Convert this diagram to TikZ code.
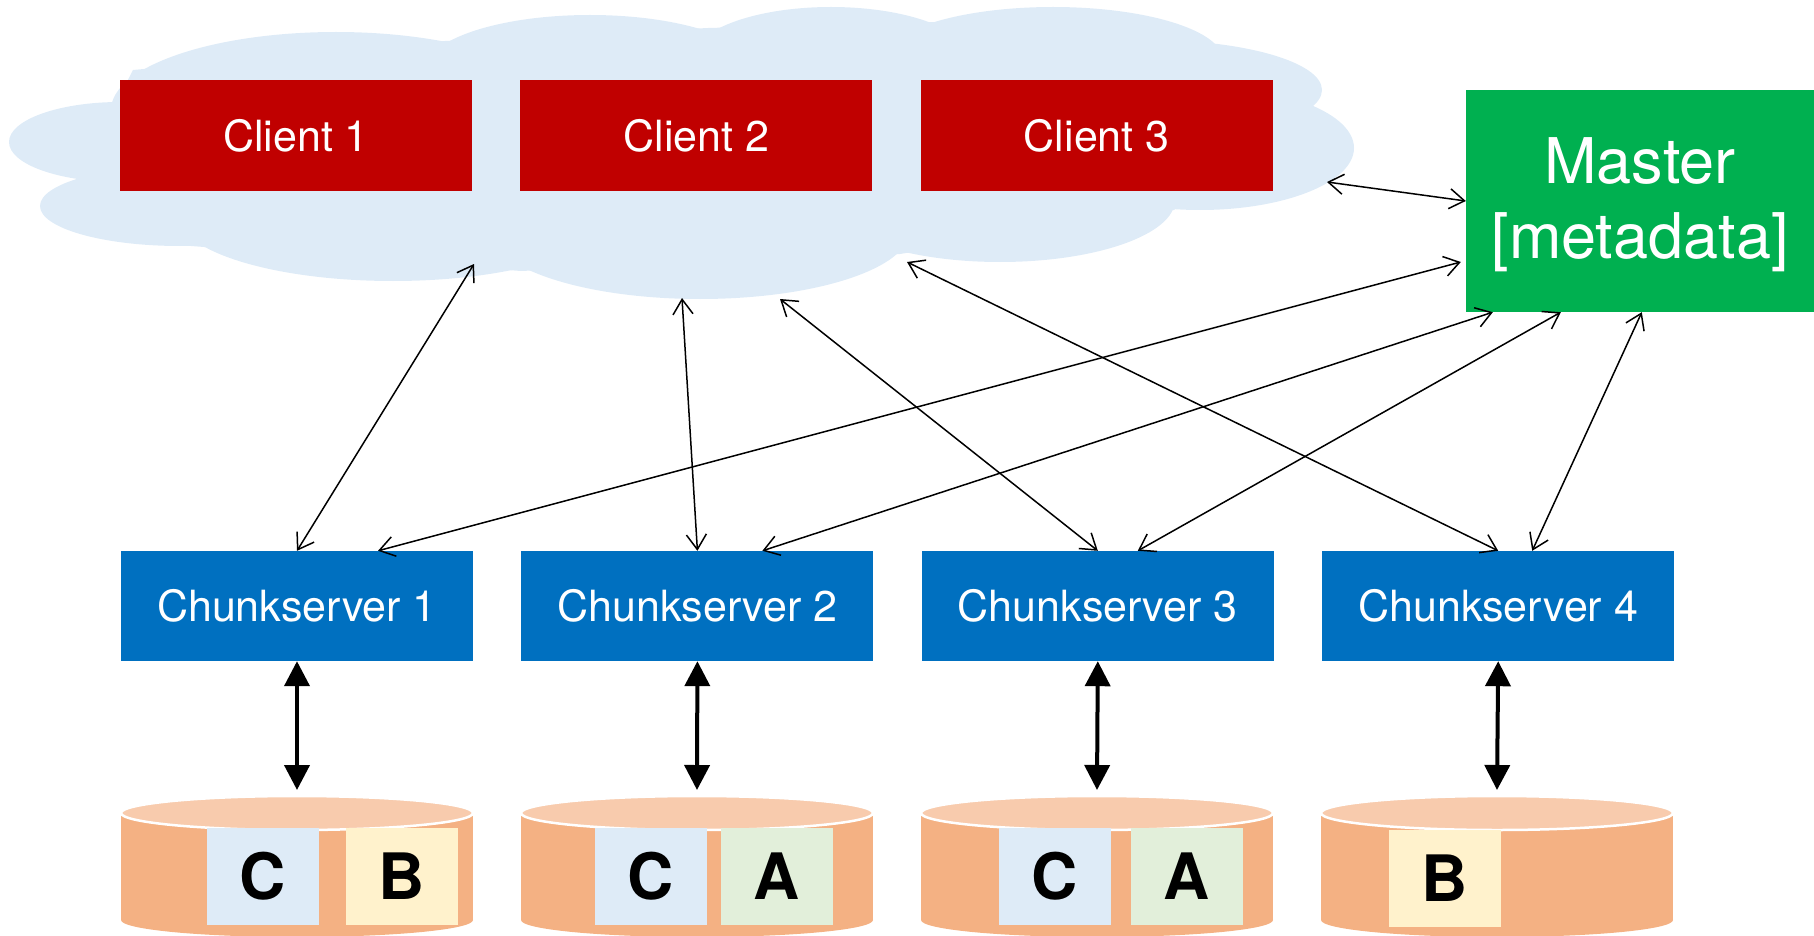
\documentclass[tikz,border=0pt]{standalone}
\usepackage{fontspec}
\setmainfont{TeX Gyre Heros}
\usetikzlibrary{arrows.meta,positioning}

\definecolor{cloudblue}{RGB}{222,235,247}
\definecolor{clientred}{RGB}{192,0,0}
\definecolor{mastergreen}{RGB}{0,176,80}
\definecolor{csblue}{RGB}{0,112,192}
\definecolor{diskbody}{RGB}{244,177,131}
\definecolor{disktop}{RGB}{248,203,173}
\definecolor{chunkC}{RGB}{222,235,247}
\definecolor{chunkB}{RGB}{255,242,204}
\definecolor{chunkA}{RGB}{226,239,218}

% one disk, centred at x = #1
\newcommand{\drawdisk}[1]{%
  \fill[diskbody] ({#1-176},813) rectangle ({#1+176},920);
  \fill[diskbody] (#1,920) ellipse [x radius=176, y radius=17];
  \filldraw[fill=disktop, draw=white, line width=2.5pt] (#1,813) ellipse [x radius=176, y radius=17];
}

\begin{document}
\begin{tikzpicture}[
    x=1pt, y=-1pt,
    node distance=48pt and 48pt,
    client/.style={fill=clientred, text=white, minimum width=352pt, minimum height=111pt, inner sep=0pt, font=\fontsize{43}{51}\selectfont},
    chunkserver/.style={fill=csblue, text=white, minimum width=352pt, minimum height=110pt, inner sep=0pt, font=\fontsize{43}{51}\selectfont},
    masterbox/.style={fill=mastergreen, minimum width=348pt, minimum height=222pt, inner sep=0pt},
    mastertext/.style={text=white, inner sep=0pt, align=center, font=\fontsize{63}{75}\selectfont},
    chunk/.style={minimum width=112pt, minimum height=97pt, inner sep=0pt, font=\fontsize{64}{64}\selectfont\bfseries},
    link/.style={{Straight Barb[length=15pt,width=20pt]}-{Straight Barb[length=15pt,width=20pt]}, line width=1.5pt},
    disklink/.style={{Triangle[length=25pt,width=25pt]}-{Triangle[length=25pt,width=25pt]}, line width=4pt}
]
\useasboundingbox (0,0) rectangle (1814,936);

% cloud
\fill[cloudblue]
  (120,142) ellipse [x radius=111, y radius=40]
  (180,206) ellipse [x radius=140, y radius=40]
  (393,215) ellipse [x radius=215, y radius=66]
  (700,230) ellipse [x radius=210, y radius=69]
  (1000,200) ellipse [x radius=175, y radius=62]
  (1200,148) ellipse [x radius=154, y radius=62]
  (1150,90) ellipse [x radius=172, y radius=50]
  (1053,60) ellipse [x radius=170, y radius=53]
  (831,60) ellipse [x radius=140, y radius=53]
  (590,70) ellipse [x radius=165, y radius=55]
  (336,110) ellipse [x radius=225, y radius=78];
\fill[cloudblue] (116,103) -- (75,177) -- (191,246) -- (521,271) -- (900,254) -- (1174,210)
  -- (1313,110) -- (1203,43) -- (937,22) -- (708,28) -- (445,41) -- (133,70) -- cycle;

\node[client] (c1) at (296,135.5) {Client 1};
\node[client] (c2) [right=of c1] {Client 2};
\node[client] (c3) [right=of c2] {Client 3};

\node[masterbox, label={[mastertext, yshift=-4pt]center:Master\\{[metadata]}}] (M) at (1640,201) {};

\node[chunkserver] (cs1) at (297,606) {Chunkserver 1};
\node[chunkserver] (cs2) [right=of cs1] {Chunkserver 2};
\node[chunkserver] (cs3) [right=of cs2] {Chunkserver 3};
\node[chunkserver] (cs4) [right=of cs3] {Chunkserver 4};

% disks
\drawdisk{297}
\drawdisk{697}
\drawdisk{1097}
\drawdisk{1497}
\node[chunk, fill=chunkC] (d1c) at (263,876) {C};
\node[chunk, fill=chunkB] (d1b) at (401.5,876) {B};
\node[chunk, fill=chunkC] (d2c) at (651,876) {C};
\node[chunk, fill=chunkA] (d2a) at (777,876) {A};
\node[chunk, fill=chunkC] (d3c) at (1054.5,876) {C};
\node[chunk, fill=chunkA] (d3a) at (1187,876) {A};
\node[chunk, fill=chunkB] (d4b) at (1445,878.5) {B};

% arrow ends
\coordinate (k1) at (474,264);
\coordinate (k2) at (682,298);
\coordinate (k3) at (780,299);
\coordinate (k4) at (907,262);
\coordinate (k5) at (1327,182);
\coordinate (d1) at (297,790);
\coordinate (d2) at (697,790);
\coordinate (d3) at (1097,790);
\coordinate (d4) at (1497,790);

\draw[link] (k1) -- (cs1.north);
\draw[link] (k2) -- (cs2.north);
\draw[link] (k3) -- (cs3.north);
\draw[link] (k4) -- (cs4.north);
\draw[link] (k5) -- (M.west);
\draw[link] ([xshift=-5pt,yshift=-61pt]M.west) -- ([xshift=81pt]cs1.north);
\draw[link] ([xshift=27pt]M.south west) -- ([xshift=65pt]cs2.north);
\draw[link] ([xshift=95pt]M.south west) -- ([xshift=40pt]cs3.north);
\draw[link] ([xshift=176pt]M.south west) -- ([xshift=34pt]cs4.north);

\draw[disklink] (cs1.south) -- (d1);
\draw[disklink] (cs2.south) -- (d2);
\draw[disklink] (cs3.south) -- (d3);
\draw[disklink] (cs4.south) -- (d4);
\end{tikzpicture}
\end{document}
